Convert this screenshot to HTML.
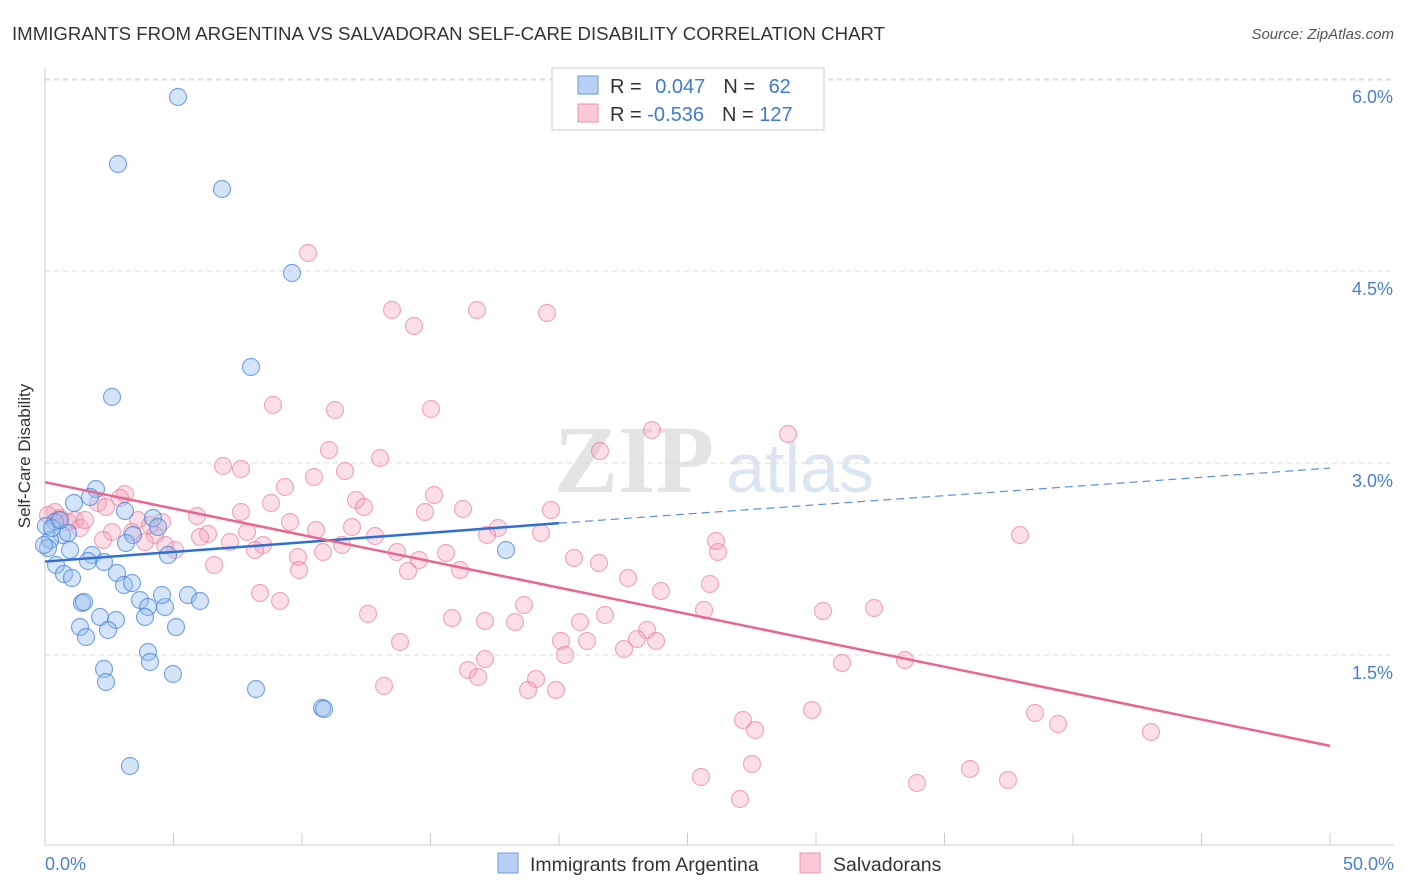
<!DOCTYPE html>
<html><head><meta charset="utf-8"><style>
body{margin:0;background:#fff;font-family:"Liberation Sans",sans-serif;}
svg{display:block}
</style></head><body>
<svg width="1406" height="892" xmlns="http://www.w3.org/2000/svg">
<text x="12" y="40" font-size="18" fill="#333" textLength="873" lengthAdjust="spacingAndGlyphs">IMMIGRANTS FROM ARGENTINA VS SALVADORAN SELF-CARE DISABILITY CORRELATION CHART</text>
<text x="1394" y="39" font-size="15" fill="#555" font-style="italic" text-anchor="end">Source: ZipAtlas.com</text>
<text x="634" y="492" font-size="96" fill="#e4e4e4" font-family="Liberation Serif" font-weight="bold" text-anchor="middle">ZIP</text>
<text x="800" y="492" font-size="70" fill="#dce6f3" text-anchor="middle">atlas</text>
<g id="grid"></g>
<line x1="45" y1="68" x2="45" y2="845" stroke="#ccc"/>
<line x1="45" y1="845" x2="1394" y2="845" stroke="#ccc"/>
<g id="ticks"></g>
<g id="pts"></g>
<g id="lines"></g>
<text x="30" y="456" font-size="17" fill="#333" text-anchor="middle" transform="rotate(-90 30 456)">Self-Care Disability</text>
<text x="45" y="870" font-size="18" fill="#4a7fd0">0.0%</text>
<text x="1394" y="870" font-size="18" fill="#4a7fd0" text-anchor="end">50.0%</text>
<g>
<rect x="552" y="68" width="272" height="62" fill="#fff" stroke="#ccc"/>
<rect x="578" y="76" width="20" height="18" fill="#b8d0f2" stroke="#6b9be0"/>
<rect x="578" y="104" width="20" height="18" fill="#fbc8d6" stroke="#ee95b0"/>
<text x="610" y="93" font-size="20" fill="#333">R = <tspan fill="#3f7bd6" dx="8">0.047</tspan><tspan dx="18">N = </tspan><tspan fill="#3f7bd6" dx="8">62</tspan></text>
<text x="610" y="121" font-size="20" fill="#333">R = <tspan fill="#3f7bd6">-0.536</tspan><tspan dx="18">N = </tspan><tspan fill="#3f7bd6">127</tspan></text>
</g>
<g>
<rect x="498" y="853" width="20" height="20" fill="#b8d0f2" stroke="#6b9be0"/>
<text x="530" y="871" font-size="19.5" fill="#333">Immigrants from Argentina</text>
<rect x="800" y="853" width="20" height="20" fill="#fbc8d6" stroke="#ee95b0"/>
<text x="833" y="871" font-size="19.5" fill="#333">Salvadorans</text>
</g>
</svg>
<script>
const yTicks=[1.5,3.0,4.5,6.0];
const yTickLabels=["1.5%","3.0%","4.5%","6.0%"];
const xTicks=[0,5,10,15,20,25,30,35,40,45,50];
const blueX=[178,118,222,292,251,112,96,74,90,125,153,158,133,55,62,50,68,48,70,92,126,104,168,56,64,72,117,124,132,88,82,84,140,148,165,188,162,200,100,116,80,108,145,176,86,148,150,104,106,173,256,322,324,130,506,46,52,60,44].map(p=>(p-45)/25.7);
const blueY=[97,164,189,273,367,397,489,503,497,511,518,527,535,522,535,540,533,548,550,555,543,562,555,565,574,578,573,585,583,561,603,602,600,607,607,595,595,601,617,620,627,630,617,627,637,652,662,669,682,674,689,708,709,766,550,526,528,520,545].map(p=>(847-p)/128);
const pinkX=[308,392,477,547,414,273,335,431,652,788,329,380,600,223,241,345,314,285,434,125,120,356,271,364,463,551,425,197,241,98,106,55,60,75,68,138,290,162,80,112,316,352,375,208,247,132,155,200,230,263,342,498,487,541,103,145,175,165,255,298,323,397,446,419,214,299,408,460,574,599,718,716,628,710,661,260,280,524,452,368,580,605,704,823,874,485,515,647,400,561,587,637,656,624,565,485,468,842,905,478,536,384,556,528,743,755,812,1035,1058,1151,752,701,970,1008,917,740,1020,150,48,58,85].map(p=>(p-45)/25.7);
const pinkY=[253,310,310,313,326,405,410,409,430,434,450,458,451,466,469,471,477,487,495,494,498,500,503,507,509,510,512,516,512,503,507,512,518,520,522,520,522,522,528,532,530,527,536,534,532,532,535,537,542,545,545,528,535,533,540,542,550,545,550,557,552,552,553,560,565,570,571,570,558,563,552,541,578,584,591,593,601,605,618,614,622,615,610,611,608,621,622,630,642,641,641,639,641,649,655,659,670,663,660,677,679,686,690,690,720,730,710,713,724,732,764,777,769,780,783,799,535,525,515,520,520].map(p=>(847-p)/128);
const blueFit=[[0,2.23],[20,2.53],[50,2.96]];
const pinkFit=[[0,2.85],[50,0.79]];
const X=v=>45+v*25.7, Y=v=>847-v*128;
const NS="http://www.w3.org/2000/svg";
function mk(t,a,p){const e=document.createElementNS(NS,t);for(const k in a)e.setAttribute(k,a[k]);p.appendChild(e);return e;}
const grid=document.getElementById('grid'),ticks=document.getElementById('ticks'),pts=document.getElementById('pts'),lines=document.getElementById('lines');
yTicks.forEach((v,i)=>{
 const l=mk('line',{x1:45,x2:1394,y1:Y(v),y2:Y(v),stroke:'#ddd','stroke-dasharray':'5,4'},grid);
 
 
 const t=mk('text',{x:1393,y:Y(v)+24,'font-size':18,fill:'#4a7fd0','text-anchor':'end'},ticks);
 t.textContent=yTickLabels[i];
 
 
});
mk('line',{x1:45,x2:1394,y1:80,y2:80,stroke:'#ddd','stroke-dasharray':'5,4'},grid);
xTicks.forEach(v=>{
 const l=mk('line',{x1:X(v),x2:X(v),y1:833,y2:845,stroke:'#ccc'},ticks);
 
 
});
pinkX.forEach((v,i)=>{
 const c=mk('circle',{cx:X(v),cy:Y(pinkY[i]),r:8.5,fill:'rgba(244,160,185,0.35)',stroke:'rgba(232,120,155,0.6)','stroke-width':1.2},pts);
 
 
});
blueX.forEach((v,i)=>{
 const c=mk('circle',{cx:X(v),cy:Y(blueY[i]),r:8.5,fill:'rgba(150,190,240,0.4)',stroke:'rgba(70,130,215,0.7)','stroke-width':1.2},pts);
 
 
});
let l=mk('line',{x1:X(blueFit[0][0]),y1:Y(blueFit[0][1]),x2:X(blueFit[1][0]),y2:Y(blueFit[1][1]),stroke:'#2f6fd4','stroke-width':2.5},lines);


l=mk('line',{x1:X(blueFit[1][0]),y1:Y(blueFit[1][1]),x2:X(blueFit[2][0]),y2:Y(blueFit[2][1]),stroke:'#5b8fde','stroke-width':1.2,'stroke-dasharray':'8,5'},lines);


l=mk('line',{x1:X(pinkFit[0][0]),y1:Y(pinkFit[0][1]),x2:X(pinkFit[1][0]),y2:Y(pinkFit[1][1]),stroke:'#e8668f','stroke-width':2.5},lines);


</script>
</body></html>
